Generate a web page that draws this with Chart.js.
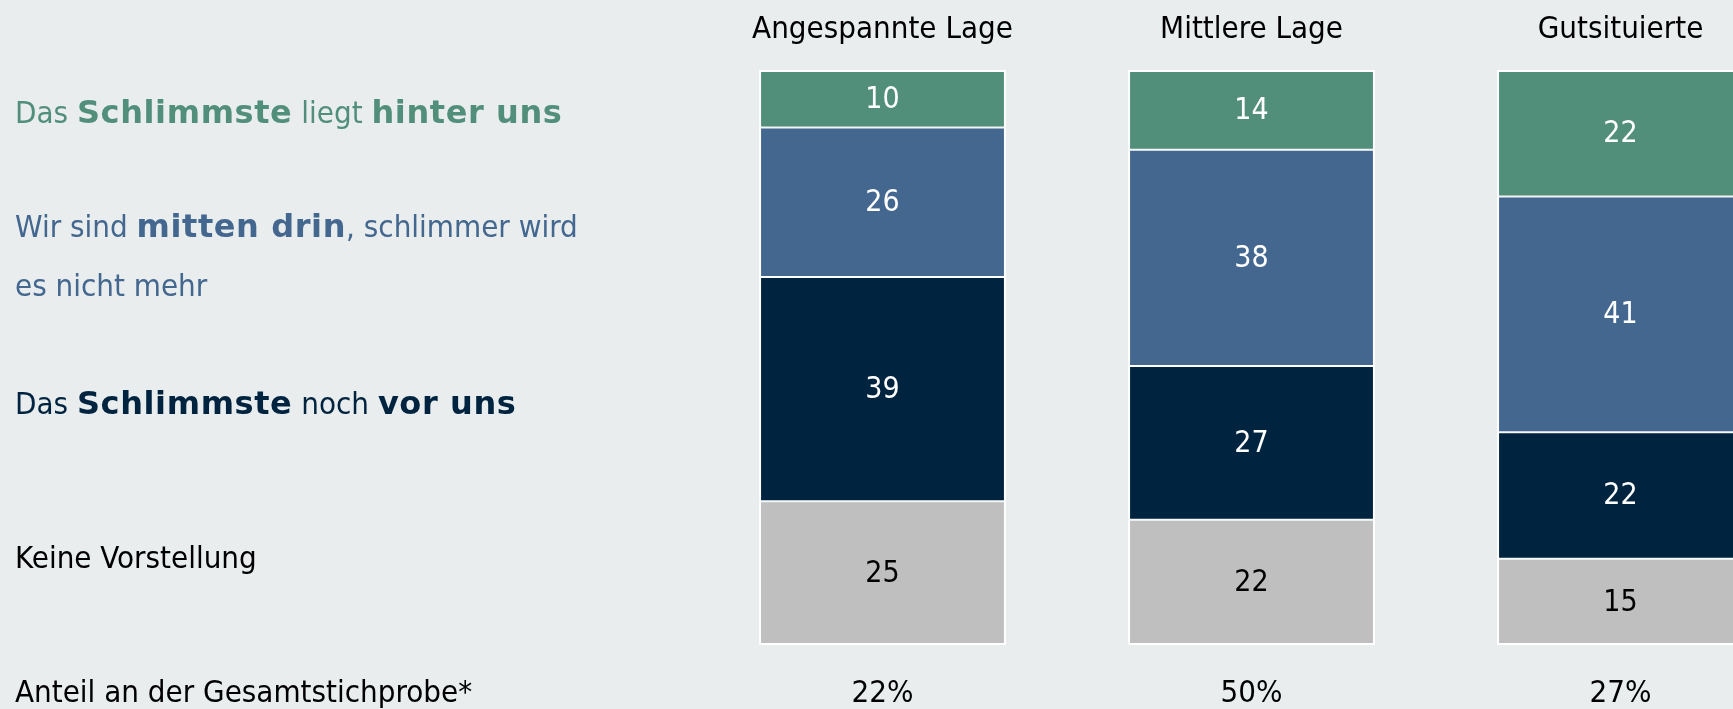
<!DOCTYPE html>
<html>
<head>
<meta charset="utf-8">
<script src="https://cdn.jsdelivr.net/npm/chart.js@4"></script>
<style>
  html, body { margin: 0; padding: 0; background: #e9edee; overflow: hidden; }
  #wrap { width: 1805px; height: 709px; }
</style>
</head>
<body>
<div id="wrap"><canvas id="lageChart" width="1805" height="709"></canvas></div>
<script>
// Werte (Prozent)
const categories = ['Angespannte Lage', 'Mittlere Lage', 'Gutsituierte'];
const hinterUns = [10, 14, 22];
const mittenDrin = [26, 38, 41];
const vorUns = [39, 27, 22];
const keineVorstellung = [25, 22, 15];
const anteil = ['22%', '50%', '27%'];

const GREEN = '#528f7b';
const BLUE = '#43678f';
const NAVY = '#002440';
const GREY = '#bfbfbf';

const REG = '"DejaVu Sans Condensed", "DejaVu Sans", sans-serif';
const BOLD = '"DejaVu Sans", sans-serif';

// bars are drawn as shares of each column's total (column 2 sums to 101)
const totals = categories.map((c, i) => hinterUns[i] + mittenDrin[i] + vorUns[i] + keineVorstellung[i]);
const share = arr => arr.map((v, i) => v / totals[i] * 100);

const legendLines = [
    { y: 123, color: GREEN, parts: [['Das ', 0], ['Schlimmste', 1], [' liegt ', 0], ['hinter uns', 1]] },
    { y: 237, color: BLUE, parts: [['Wir sind ', 0], ['mitten drin', 1], [', schlimmer wird', 0]] },
    { y: 296, color: BLUE, parts: [['es nicht mehr', 0]] },
    { y: 414, color: NAVY, parts: [['Das ', 0], ['Schlimmste', 1], [' noch ', 0], ['vor uns', 1]] },
    { y: 568, color: '#000', parts: [['Keine Vorstellung', 0]] },
    { y: 702, color: '#000', parts: [['Anteil an der Gesamtstichprobe*', 0]] }
];

const textPlugin = {
    id: 'texts',
    afterDatasetsDraw(chart) {
        const ctx = chart.ctx;
        const x = chart.scales.x;
        ctx.save();

        // values inside the segments
        ctx.textAlign = 'center';
        ctx.textBaseline = 'middle';
        ctx.font = '30px ' + REG;
        chart.data.datasets.forEach((ds, di) => {
            chart.getDatasetMeta(di).data.forEach((el, i) => {
                ctx.fillStyle = ds.labelColor;
                ctx.fillText(ds.raw[i], el.x, (el.y + el.base) / 2 + 1);
            });
        });

        // column titles and sample shares
        ctx.textBaseline = 'alphabetic';
        ctx.fillStyle = '#000';
        ctx.font = '31px ' + REG;
        categories.forEach((c, i) => {
            const px = x.getPixelForValue(i);
            ctx.fillText(c, px, 38);
            ctx.fillText(anteil[i], px, 702);
        });

        // left labels
        ctx.textAlign = 'left';
        legendLines.forEach(line => {
            let px = 15;
            ctx.fillStyle = line.color;
            line.parts.forEach(([t, b]) => {
                ctx.font = b ? 'bold 32px ' + BOLD : '31px ' + REG;
                ctx.letterSpacing = b ? '0.6px' : '0px';
                ctx.fillText(t, px, line.y);
                px += ctx.measureText(t).width;
            });
        });
        ctx.restore();
    }
};

function seg(label, values, color, labelColor, pos) {
    return {
        label: label,
        data: share(values),
        raw: values,
        labelColor: labelColor,
        backgroundColor: color,
        borderColor: '#ffffff',
        borderWidth: {
            top: pos === 'top' ? 2 : 1,
            bottom: pos === 'bottom' ? 2 : 1,
            left: 2,
            right: 2
        },
        borderSkipped: false,
        barPercentage: 0.669,
        categoryPercentage: 1
    };
}

new Chart(document.getElementById('lageChart').getContext('2d'), {
    type: 'bar',
    data: {
        labels: categories,
        datasets: [
            seg('Keine Vorstellung', keineVorstellung, GREY, '#000', 'bottom'),
            seg('Das Schlimmste noch vor uns', vorUns, NAVY, '#fff', 'mid'),
            seg('Wir sind mitten drin', mittenDrin, BLUE, '#fff', 'mid'),
            seg('Das Schlimmste liegt hinter uns', hinterUns, GREEN, '#fff', 'top')
        ]
    },
    options: {
        responsive: false,
        animation: false,
        layout: { padding: { left: 698, right: 0, top: 70, bottom: 64 } },
        plugins: {
            legend: { display: false },
            tooltip: { enabled: false }
        },
        scales: {
            x: { stacked: true, display: false },
            y: { stacked: true, display: false, min: 0, max: 100 }
        }
    },
    plugins: [textPlugin]
});
</script>
</body>
</html>
